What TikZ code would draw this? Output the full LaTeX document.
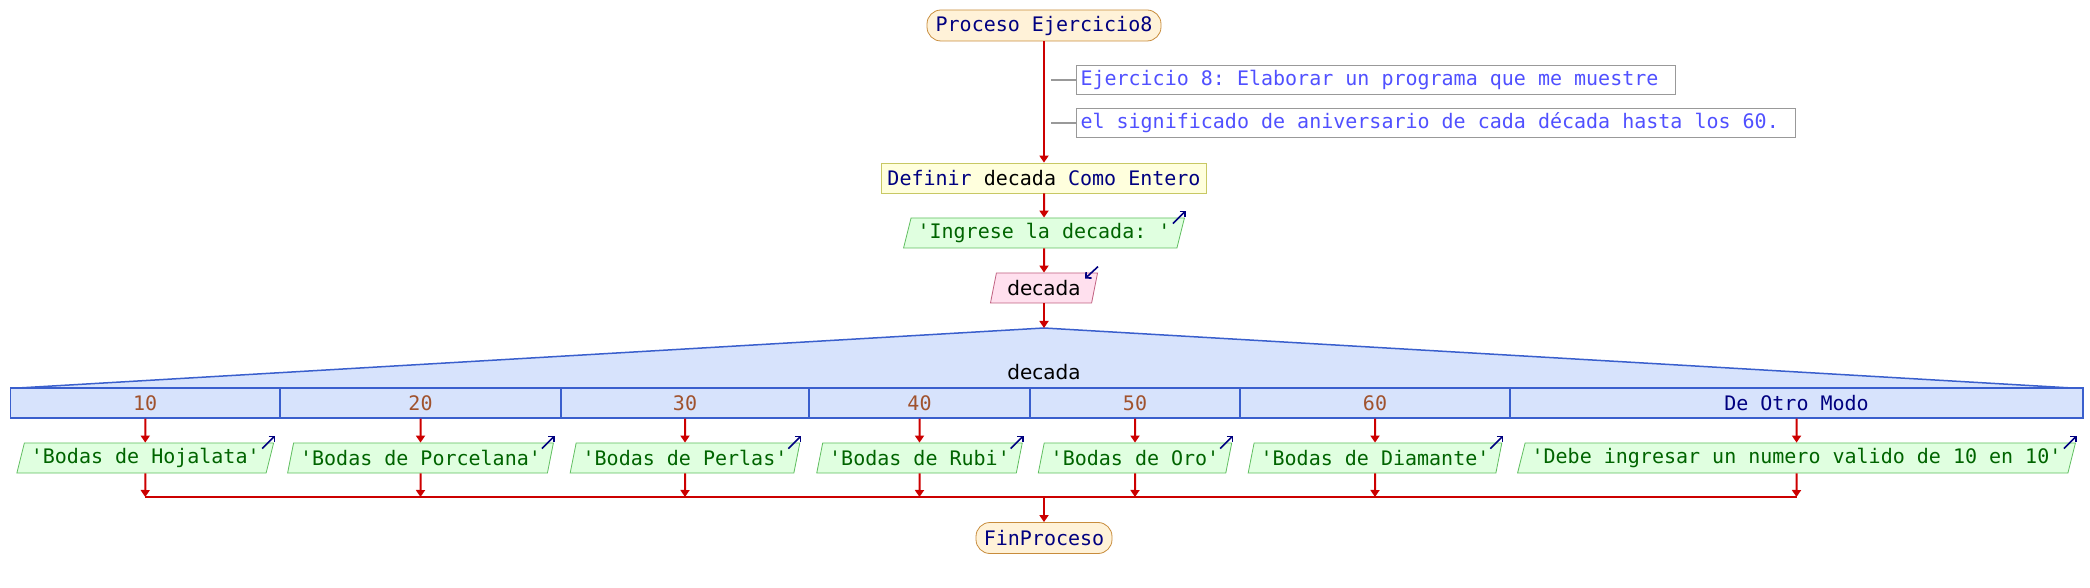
\documentclass[tikz,border=0pt]{standalone}
\usepackage{fontspec}
\setmainfont{DejaVu Sans}
\setsansfont{DejaVu Sans}
\setmonofont{DejaVu Sans Mono}
\usetikzlibrary{shapes.geometric,arrows.meta}

\definecolor{flujo}{RGB}{204,0,0}
\definecolor{azulk}{RGB}{0,0,128}
\definecolor{procfill}{RGB}{255,242,216}
\definecolor{procline}{RGB}{200,140,60}
\definecolor{deffill}{RGB}{255,255,221}
\definecolor{defline}{RGB}{200,200,100}
\definecolor{verdefill}{RGB}{224,255,224}
\definecolor{verdeline}{RGB}{96,190,96}
\definecolor{verdetext}{RGB}{0,100,0}
\definecolor{rosafill}{RGB}{255,224,238}
\definecolor{rosaline}{RGB}{192,96,128}
\definecolor{swfill}{RGB}{215,227,252}
\definecolor{swline}{RGB}{58,95,205}
\definecolor{casetext}{RGB}{160,82,45}
\definecolor{comtext}{RGB}{80,80,255}
\definecolor{comline}{RGB}{153,153,153}

\begin{document}
\begin{tikzpicture}[x=0.5pt, y=-0.5pt,
    flecha/.style={flujo, line width=1pt, -{Triangle[width=4.5pt,length=3.5pt]}},
    icono/.style={azulk, line width=0.8pt, -{Straight Barb[length=2pt,width=4pt]}},
    proceso/.style={draw=procline, fill=procfill, text=azulk, rounded corners=7pt, minimum height=15.5pt, inner sep=0pt, font=\ttfamily},
    definir/.style={draw=defline, fill=deffill, text=azulk, minimum height=15pt, inner sep=0pt, font=\ttfamily},
    salida/.style={trapezium, trapezium left angle=69, trapezium right angle=111, trapezium stretches=true, draw=verdeline, fill=verdefill, text=verdetext, minimum height=15pt, inner xsep=3.25pt, inner ysep=0pt, font=\ttfamily},
    lectura/.style={salida, draw=rosaline, fill=rosafill, text=black, inner xsep=5.5pt, font=\sffamily},
    celda/.style={draw=swline, fill=swfill, line width=0.6pt, minimum height=15pt, inner sep=0pt, font=\ttfamily},
    comentario/.style={draw=comline, text=comtext, line width=0.5pt, minimum height=14.5pt, inner xsep=2pt, inner ysep=0pt, anchor=west, font=\ttfamily}]
    \useasboundingbox (0,0) rectangle (2090,588);

    % inicio y comentarios
    \node[proceso, minimum width=117pt] (ini) at (1044,25.5) {Proceso Ejercicio8};
    \node[comentario] (com1) at (1076,80) {\makebox[295.5pt][l]{Ejercicio 8: Elaborar un programa que me muestre}};
    \node[comentario] (com2) at (1076,123) {\makebox[355.5pt][l]{el significado de aniversario de cada década hasta los 60.}};
    \coordinate (k1) at (1051,80);
    \coordinate (k2) at (1051,123);
    \draw[comline, line width=0.75pt] (k1) -- (com1);
    \draw[comline, line width=0.75pt] (k2) -- (com2);

    \node[definir, minimum width=162.5pt] (def) at (1044,178) {Definir {\color{black}decada} Como Entero};
    \node[salida] (esc) at (1044,233) {'Ingrese la decada: '};
    \node[lectura] (leer) at (1044,288) {decada};
    \draw[icono] ([shift={(-12,6)}]esc.top right corner) -- ++(13,-13);
    \draw[icono] ([shift={(0,-6)}]leer.top right corner) -- ++(-13,12);

    \draw[flecha] (ini) -- (def);
    \draw[flecha] (def) -- (esc);
    \draw[flecha] (esc) -- (leer);

    % segun
    \coordinate (apex) at (1044,328);
    \draw[swline, fill=swfill, line width=0.75pt] (18,388) -- (apex) -- (2072,388) -- cycle;
    \draw[flecha] (leer) -- (apex);
    \node[font=\sffamily] (sel) at (1044,372) {decada};

    \foreach \i/\xa/\xb/\val/\cc/\txt in {1/10.5/280/10/casetext/Bodas de Hojalata,
        2/280/561/20/casetext/Bodas de Porcelana, 3/561/809/30/casetext/Bodas de Perlas,
        4/809/1030/40/casetext/Bodas de Rubi, 5/1030/1240/50/casetext/Bodas de Oro,
        6/1240/1510/60/casetext/Bodas de Diamante,
        7/1510/2083/De Otro Modo/azulk/Debe ingresar un numero valido de 10 en 10}
    {
        \pgfmathsetmacro\cx{(\xa+\xb)/2}
        \node[celda, text=\cc, minimum width={(\xb-\xa)*0.5pt}] (c\i) at (\cx,403) {\val};
        \node[salida] (o\i) at (\cx,458) {'\txt'};
        \coordinate (m\i) at (\cx,497);
        \draw[flecha] (c\i) -- (o\i);
        \draw[flecha] (o\i) -- (m\i);
        \draw[icono] ([shift={(-12,6)}]o\i.top right corner) -- ++(13,-13);
    }

    % fin
    \draw[flujo, line width=1pt] (m1) -- (m7);
    \coordinate (mfin) at (1044,497);
    \node[proceso, minimum width=68pt] (fin) at (1044,538) {FinProceso};
    \draw[flecha] (mfin) -- (fin);
\end{tikzpicture}
\end{document}
